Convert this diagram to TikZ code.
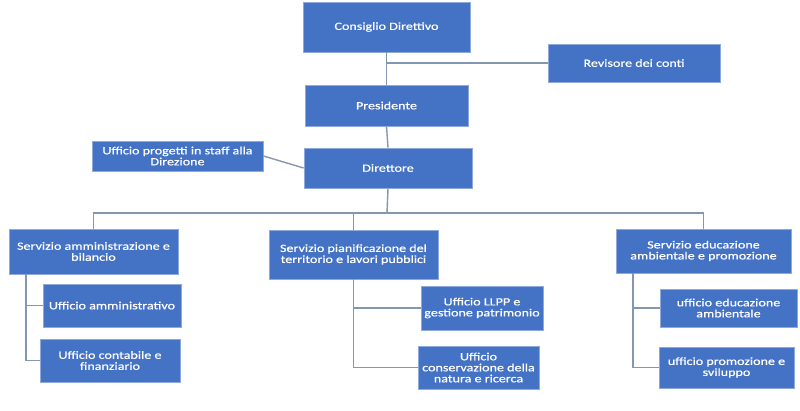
\documentclass[tikz,border=0pt]{standalone}
\usepackage{fontspec}
\setmainfont{Carlito}[FakeStretch=1.28,FakeBold=0.6]
\definecolor{boxblue}{HTML}{4472C4}
\definecolor{boxedge}{HTML}{8EA9DB}
\definecolor{linegray}{HTML}{8497B0}
\begin{document}
\begin{tikzpicture}[x=1pt,y=-1pt,
  box/.style={rectangle, fill=boxblue, draw=boxedge, line width=0.8pt, text=white, align=center, inner sep=2pt,
    font=\fontsize{11}{11}\selectfont},
  conn/.style={draw=linegray, line width=1.4pt}]
\fill[white] (0,0) rectangle (800,410);
\useasboundingbox (0,0) rectangle (800,410);
\node[box, minimum width=167pt, minimum height=50pt] (cd) at (386.5,27) {Consiglio Direttivo};
\node[box, minimum width=172pt, minimum height=38pt] (rev) at (634,63) {Revisore dei conti};
\node[box, minimum width=163pt, minimum height=41pt] (pres) at (386.5,105.5) {Presidente};
\node[box, minimum width=171pt, minimum height=30pt] (upro) at (177.5,156) {Ufficio progetti in staff alla\\Direzione};
\node[box, minimum width=168pt, minimum height=40pt] (dir) at (388,168) {Direttore};
\node[box, minimum width=169pt, minimum height=45pt] (sa) at (93.5,251.5) {Servizio amministrazione e\\bilancio};
\node[box, minimum width=169pt, minimum height=49pt] (sp) at (353.5,254.5) {Servizio pianificazione del\\territorio e lavori pubblici};
\node[box, minimum width=175pt, minimum height=44pt] (se) at (703.5,251) {Servizio educazione\\ambientale e promozione};
\node[box, minimum width=138pt, minimum height=43pt] (ua) at (112,305.5) {Ufficio amministrativo};
\node[box, minimum width=140pt, minimum height=43pt] (uc) at (110,360.5) {Ufficio contabile e\\finanziario};
\node[box, minimum width=122pt, minimum height=44pt] (ul) at (482,308) {Ufficio LLPP e\\gestione patrimonio};
\node[box, minimum width=121pt, minimum height=43pt] (ucn) at (478.5,367.5) {Ufficio\\conservazione della\\natura e ricerca};
\node[box, minimum width=137pt, minimum height=38pt] (ue) at (728.5,308) {ufficio educazione\\ambientale};
\node[box, minimum width=135pt, minimum height=41pt] (upr) at (726.5,367.5) {ufficio promozione e\\sviluppo};
\coordinate (revj) at (387,63);
\coordinate (bus) at (387,213);
\coordinate (sab) at (26,274);
\coordinate (seb) at (633,273);
\draw[conn] (cd.south) -- (pres.north);
\draw[conn] (revj) -- (rev.west);
\draw[conn] (pres.south) -- (dir.north);
\draw[conn] (upro.east) -- (dir.west);
\draw[conn] (dir.south) -- (bus);
\draw[conn] (sa.north) |- (bus) -| (se.north);
\draw[conn] (sp.north) -- (sp.north |- bus);
\draw[conn] (sab) |- (ua.west);
\draw[conn] (sab) |- (uc.west);
\draw[conn] (sp.south) |- (ul.west);
\draw[conn] (sp.south) |- (ucn.west);
\draw[conn] (seb) |- (ue.west);
\draw[conn] (seb) |- (upr.west);
\end{tikzpicture}
\end{document}
